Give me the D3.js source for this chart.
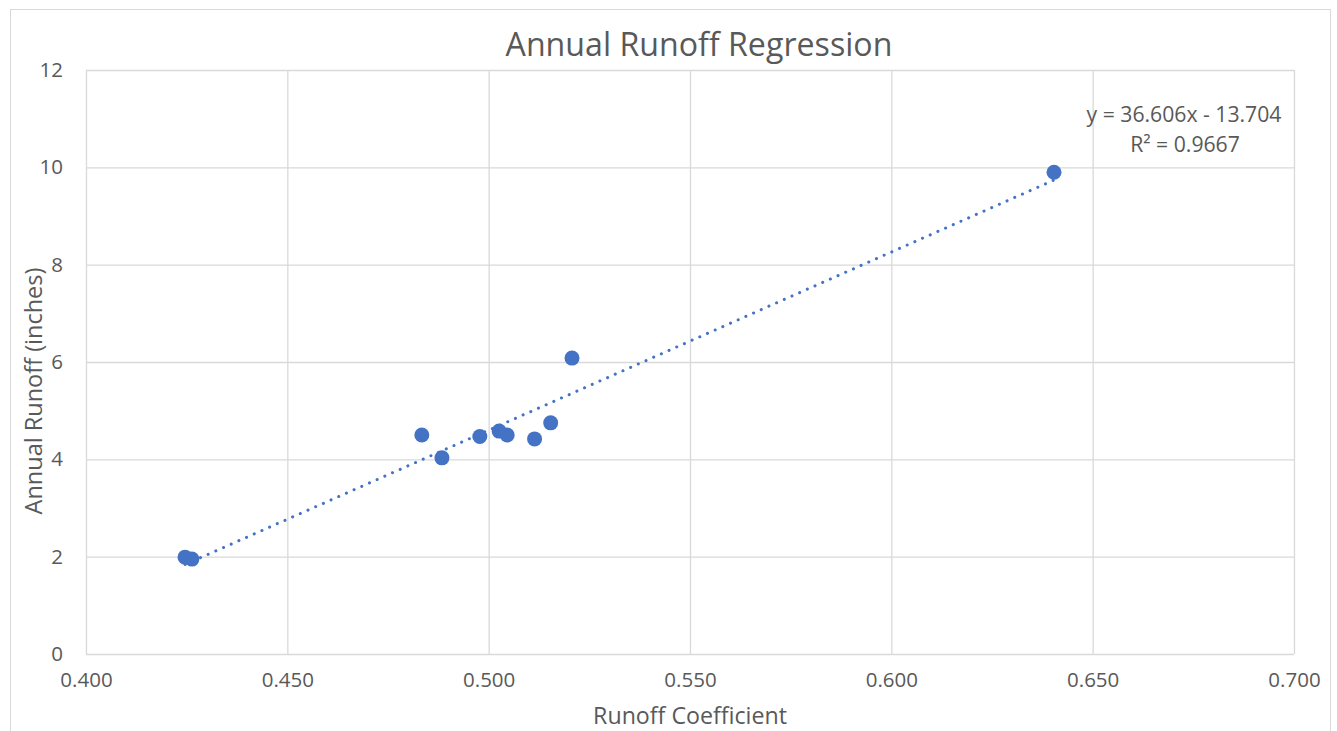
<!DOCTYPE html>
<html><head><meta charset="utf-8">
<script src="https://cdn.jsdelivr.net/npm/d3@7"></script>
<style>body{margin:0;background:#fff;} svg{display:block;}</style>
</head><body>
<script>
const runoffCoeff = [0.4246, 0.4263, 0.4834, 0.4884, 0.4978, 0.5026, 0.5046, 0.5114, 0.5154, 0.5207, 0.6404];
const annualRunoff = [1.99, 1.95, 4.50, 4.03, 4.47, 4.58, 4.50, 4.42, 4.75, 6.08, 9.90];
const xTicks = [0.40, 0.45, 0.50, 0.55, 0.60, 0.65, 0.70];
const yTicks = [0, 2, 4, 6, 8, 10, 12];
const slope = 36.606, intercept = -13.704, r2 = 0.9667;

const W = 1337, H = 731;
const font = "'Open Sans', 'Noto Sans', sans-serif";
const svg = d3.select("body").append("svg").attr("width", W).attr("height", H);
svg.append("rect").attr("x", 10.5).attr("y", 9.5).attr("width", 1320).attr("height", 740)
  .attr("fill", "#fff").attr("stroke", "#d9d9d9");

const x = d3.scaleLinear().domain([0.4, 0.7]).range([86, 1294]);
const y = d3.scaleLinear().domain([0, 12]).range([654, 70]);

const gx = svg.append("g").attr("transform", "translate(0,654)")
  .call(d3.axisBottom(x).tickValues(xTicks).tickSize(-(654 - 70)).tickFormat(d3.format(".3f")).tickPadding(18));
const gy = svg.append("g").attr("transform", "translate(86,0)")
  .call(d3.axisLeft(y).tickValues(yTicks).tickSize(-(1294 - 86)).tickPadding(23));
[gx, gy].forEach(g => {
  g.select(".domain").remove();
  g.selectAll(".tick line").attr("stroke", "#d9d9d9").attr("stroke-width", 1.3);
  g.selectAll(".tick text").attr("fill", "#595959").style("font-family", font).style("font-size", "20.5px");
});

// trendline
const xs = [d3.min(runoffCoeff), d3.max(runoffCoeff)];
svg.append("line")
  .attr("x1", x(xs[0])).attr("y1", y(slope * xs[0] + intercept))
  .attr("x2", x(xs[1])).attr("y2", y(slope * xs[1] + intercept))
  .attr("stroke", "#4472C4").attr("stroke-width", 3).attr("stroke-linecap", "round")
  .attr("stroke-dasharray", "0.1 8.3");

svg.append("g").selectAll("circle").data(runoffCoeff).join("circle")
  .attr("cx", d => x(d)).attr("cy", (d, i) => y(annualRunoff[i])).attr("r", 7.5)
  .attr("fill", "#4472C4");

function fit(sel, target) {
  const w = sel.node().getComputedTextLength();
  const fs = parseFloat(sel.style("font-size"));
  sel.style("font-size", (fs * target / w) + "px");
}

const title = svg.append("text").attr("x", 699).attr("y", 56).attr("text-anchor", "middle")
  .attr("fill", "#595959").style("font-family", font).style("font-size", "28px")
  .text("Annual Runoff Regression");
fit(title, 387);
const xt = svg.append("text").attr("x", 690).attr("y", 724).attr("text-anchor", "middle")
  .attr("fill", "#595959").style("font-family", font).style("font-size", "20px")
  .text("Runoff Coefficient");
fit(xt, 194);
const yt = svg.append("text").attr("transform", "translate(42,391) rotate(-90)").attr("text-anchor", "middle")
  .attr("fill", "#595959").style("font-family", font).style("font-size", "20px")
  .text("Annual Runoff (inches)");
fit(yt, 247);

const eq = svg.append("text").attr("text-anchor", "middle").attr("fill", "#595959")
  .style("font-family", font).style("font-size", "18px");
const t1 = eq.append("tspan").attr("x", 1184).attr("y", 122)
  .text(`y = ${slope.toFixed(3)}x - ${Math.abs(intercept).toFixed(3)}`);
const t2 = eq.append("tspan").attr("x", 1185).attr("y", 152).text(`R² = ${r2}`);
const w1 = t1.node().getComputedTextLength();
eq.style("font-size", (18 * 195 / w1) + "px");
</script>
</body></html>
